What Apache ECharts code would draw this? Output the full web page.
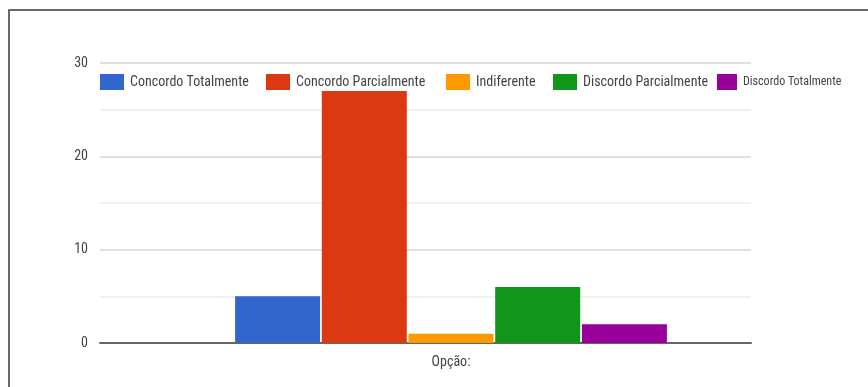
<!DOCTYPE html>
<html>
<head>
<meta charset="utf-8">
<script src="https://cdn.jsdelivr.net/npm/echarts@6/dist/echarts.min.js"></script>
<style>
  html, body { margin: 0; padding: 0; background: #fff; }
  #chart { width: 868px; height: 387px; }
</style>
</head>
<body>
<div id="chart"></div>
<script>
// Survey answers for one question, one bar per response option
const categories = ['Opção:'];
const seriesNames = ['Concordo Totalmente', 'Concordo Parcialmente', 'Indiferente', 'Discordo Parcialmente', 'Discordo Totalmente'];
const seriesValues = [5, 27, 1, 6, 2];
const seriesColors = ['#3366cc', '#dc3912', '#ff9900', '#109618', '#990099'];
const yTicks = { min: 0, max: 30, interval: 10 };

const FONT = "'Liberation Sans Narrow', 'Arial Narrow', 'Roboto Condensed', Roboto, sans-serif";
const FONT_SIZE = 14;
// legend entries are laid out in one row; the last one is squeezed to fit the frame
const legendLefts = [100, 266, 446, 553, 717];
const legendSwatchW = [24, 24, 24, 24, 20];
const legendFontSizes = [14, 14, 14, 14, 12];

const chart = echarts.init(document.getElementById('chart'), null, { renderer: 'canvas' });

const series = seriesNames.map((name, i) => ({
  name: name,
  type: 'bar',
  xAxisIndex: 1,
  yAxisIndex: 1,
  barWidth: 85,
  barGap: '2%',
  itemStyle: { color: seriesColors[i] },
  data: [seriesValues[i]]
}));

const legends = seriesNames.map((name, i) => ({
  data: [name],
  left: legendLefts[i],
  top: 74,
  padding: 0,
  itemWidth: legendSwatchW[i],
  itemHeight: 16,
  icon: 'rect',
  selectedMode: false,
  textStyle: { fontFamily: FONT, fontSize: legendFontSizes[i], color: '#444', padding: [0, 0, 0, 1] }
}));

chart.setOption({
  animation: false,
  textStyle: { fontFamily: FONT },
  legend: legends,
  grid: [
    { left: 100, right: 117, top: 63, bottom: 44 },
    { left: 100, right: 66, top: 63, bottom: 44 }
  ],
  xAxis: [
    {
      type: 'category', gridIndex: 0, data: categories,
      axisLine: { show: true, lineStyle: { color: '#666', width: 2 } },
      axisTick: { show: false },
      axisLabel: { show: false }
    },
    {
      type: 'category', gridIndex: 1, data: categories,
      axisLine: { show: false },
      axisTick: { show: false },
      axisLabel: { margin: 12, fontFamily: FONT, fontSize: FONT_SIZE, color: '#444' }
    }
  ],
  yAxis: [
    {
      type: 'value', gridIndex: 0,
      min: yTicks.min, max: yTicks.max, interval: yTicks.interval,
      axisLine: { show: false },
      axisTick: { show: false },
      axisLabel: { margin: 12, fontFamily: FONT, fontSize: FONT_SIZE, color: '#444' },
      splitLine: { lineStyle: { color: '#d6d6d6', width: 1.5 } },
      minorTick: { show: false, splitNumber: 2 },
      minorSplitLine: { show: true, lineStyle: { color: '#ececec', width: 1.5 } }
    },
    {
      type: 'value', gridIndex: 1,
      min: yTicks.min, max: yTicks.max, interval: yTicks.interval,
      show: false,
      splitLine: { show: false }
    }
  ],
  graphic: [{
    type: 'rect',
    silent: true,
    z: 100,
    shape: { x: 9, y: 10, width: 1000, height: 600 },
    style: { fill: 'none', stroke: '#3a3a3a', lineWidth: 1.5 }
  }],
  series: series
});
</script>
</body>
</html>
